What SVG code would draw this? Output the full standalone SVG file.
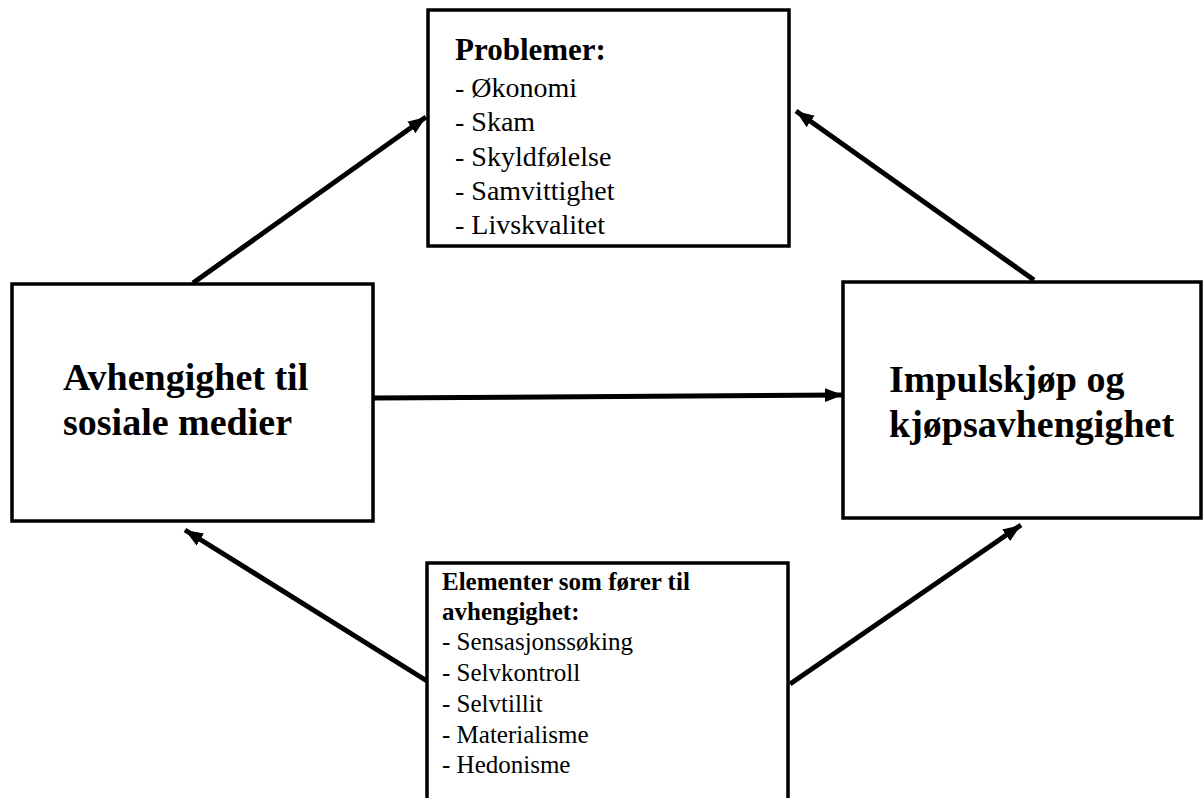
<svg xmlns="http://www.w3.org/2000/svg" width="1203" height="798" viewBox="0 0 1203 798">
<style>
.box{fill:#fff;stroke:#000;stroke-width:3.5}
.t{font-family:"Liberation Serif","Times New Roman",serif;fill:#000}
.b{font-weight:bold}
.big{font-size:38px;font-weight:bold}
.mid{font-size:28px}
.sm{font-size:25px}
.con{stroke:#000;stroke-width:5;fill:none;marker-end:url(#ah)}
</style>
<defs>
<marker id="ah" markerUnits="userSpaceOnUse" markerWidth="19" markerHeight="16" refX="18" refY="8" orient="auto">
<path d="M0,1 L18,8 L0,15 z" fill="#000"/>
</marker>
</defs>
<rect width="1203" height="798" fill="#fff"/>
<g id="connectors">
<line class="con" x1="193" y1="283" x2="426" y2="117"/>
<line class="con" x1="1034" y1="280" x2="796" y2="111"/>
<line class="con" x1="427" y1="681" x2="185" y2="530"/>
<line class="con" x1="790" y1="684" x2="1021" y2="525"/>
<line class="con" x1="374" y1="398" x2="843" y2="395"/>
</g>
<g id="problemer" font-family="Liberation Serif, serif">
<rect class="box" x="428" y="10" width="361" height="236"/>
<text class="t b" x="455" y="60" style="font-size:31px">Problemer:</text>
<text class="t mid" x="455" y="97">- Økonomi</text>
<text class="t mid" x="455" y="131">- Skam</text>
<text class="t mid" x="455" y="166">- Skyldfølelse</text>
<text class="t mid" x="455" y="200">- Samvittighet</text>
<text class="t mid" x="455" y="234">- Livskvalitet</text>
</g>
<g id="avhengighet" font-family="Liberation Serif, serif">
<rect class="box" x="12" y="284" width="361" height="237"/>
<text class="t big" x="63" y="390">Avhengighet til</text>
<text class="t big" x="63" y="435">sosiale medier</text>
</g>
<g id="impulskjop" font-family="Liberation Serif, serif">
<rect class="box" x="843" y="282" width="358" height="236"/>
<text class="t big" x="889" y="392">Impulskjøp og</text>
<text class="t big" x="889" y="437">kjøpsavhengighet</text>
</g>
<g id="elementer" font-family="Liberation Serif, serif">
<rect class="box" x="427" y="563" width="361" height="250"/>
<text class="t b sm" x="442" y="590">Elementer som fører til</text>
<text class="t b sm" x="442" y="620">avhengighet:</text>
<text class="t sm" x="442" y="650">- Sensasjonssøking</text>
<text class="t sm" x="442" y="681">- Selvkontroll</text>
<text class="t sm" x="442" y="712">- Selvtillit</text>
<text class="t sm" x="442" y="743">- Materialisme</text>
<text class="t sm" x="442" y="773">- Hedonisme</text>
</g>
</svg>
